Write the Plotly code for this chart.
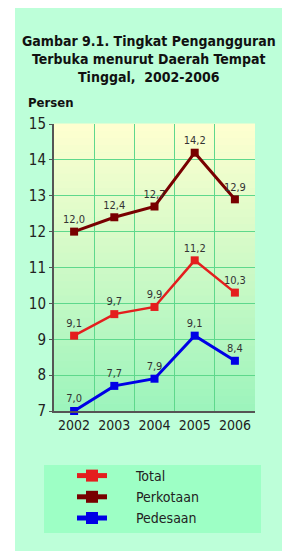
import plotly.graph_objects as go

years = ["2002", "2003", "2004", "2005", "2006"]
total = [9.1, 9.7, 9.9, 11.2, 10.3]
perkotaan = [12.0, 12.4, 12.7, 14.2, 12.9]
pedesaan = [7.0, 7.7, 7.9, 9.1, 8.4]
y_ticks = [7, 8, 9, 10, 11, 12, 13, 14, 15]

FONT = "DejaVu Sans Condensed, DejaVu Sans"
W, H = 282, 551
L, R, T, B = 54, 255, 124, 411  # plot area in px


def px_x(p):
    return (p - L) / (R - L)


def px_y(p):
    return (B - p) / (B - T)


series = [
    ("Total", total, "#E41E1E", 2.5),
    ("Perkotaan", perkotaan, "#780000", 3),
    ("Pedesaan", pedesaan, "#0000E6", 3),
]

fig = go.Figure()
for name, vals, color, lw in series:
    fig.add_trace(go.Scatter(
        x=years, y=vals, name="\u00a0" * 6 + name,
        mode="lines+markers+text",
        line=dict(color=color, width=lw),
        marker=dict(symbol="square", size=8, color=color),
        text=[f"{v:.1f}".replace(".", ",") for v in vals],
        textposition="top center",
        textfont=dict(family=FONT, size=11, color="#333333"),
        cliponaxis=False,
    ))

shapes = []
# outer mint panel
shapes.append(dict(type="rect", xref="paper", yref="paper",
                   x0=px_x(15), x1=px_x(290), y0=px_y(560), y1=px_y(8),
                   fillcolor="#BDFFD9", line=dict(width=0), layer="below"))
# gradient plot background
n = 40
top = (255, 255, 208)
bot = (156, 244, 188)
for i in range(n):
    f = (i + 0.5) / n
    c = tuple(round(top[k] + (bot[k] - top[k]) * f) for k in range(3))
    shapes.append(dict(type="rect", xref="x domain", yref="y domain",
                       x0=0, x1=1, y0=1 - (i + 1) / n, y1=1 - i / n + 0.002,
                       fillcolor="rgb(%d,%d,%d)" % c, line=dict(width=0), layer="below"))
# legend box
shapes.append(dict(type="rect", xref="paper", yref="paper",
                   x0=px_x(44), x1=px_x(261), y0=px_y(533), y1=px_y(465),
                   fillcolor="#9DFFC5", line=dict(width=0), layer="below"))

fig.update_layout(
    width=W, height=H,
    margin=dict(l=L, r=W - R, t=T, b=H - B),
    paper_bgcolor="white", plot_bgcolor="rgba(0,0,0,0)",
    separators=", ",
    shapes=shapes,
    showlegend=True,
    legend=dict(x=px_x(72), y=px_y(460), xanchor="left", yanchor="top",
                bgcolor="rgba(0,0,0,0)", itemsizing="constant",
                font=dict(family=FONT, size=14, color="#222222"),
                tracegroupgap=0),
    xaxis=dict(type="category", tickson="boundaries", range=[-0.5, 4.5],
               showgrid=True, gridcolor="#5ED88C", gridwidth=1,
               showline=True, linecolor="#555555", linewidth=2,
               ticks="", tickangle=0,
               tickfont=dict(family=FONT, size=14, color="#222222"),
               zeroline=False, fixedrange=True),
    yaxis=dict(range=[7, 15], tickvals=y_ticks,
               showgrid=True, gridcolor="#5ED88C", gridwidth=1,
               showline=True, linecolor="#555555", linewidth=2,
               ticks="outside", ticklen=3, tickcolor="#555555",
               tickfont=dict(family=FONT, size=15, color="#222222"),
               zeroline=False, fixedrange=True),
    annotations=[
        dict(xref="paper", yref="paper", x=px_x(149), y=px_y(31),
             xanchor="center", yanchor="top", showarrow=False,
             text="<b>Gambar 9.1. Tingkat Pengangguran<br>Terbuka menurut Daerah Tempat<br>Tinggal,  2002-2006</b>",
             font=dict(family=FONT, size=14, color="#111111"), align="center"),
        dict(xref="paper", yref="paper", x=px_x(26), y=px_y(103),
             xanchor="left", yanchor="middle", showarrow=False,
             text="<b>Persen</b>",
             font=dict(family=FONT, size=13, color="#111111")),
    ],
)

fig.write_html("out.html", config={"displayModeBar": False},
               post_script="document.body.style.margin='0';")
